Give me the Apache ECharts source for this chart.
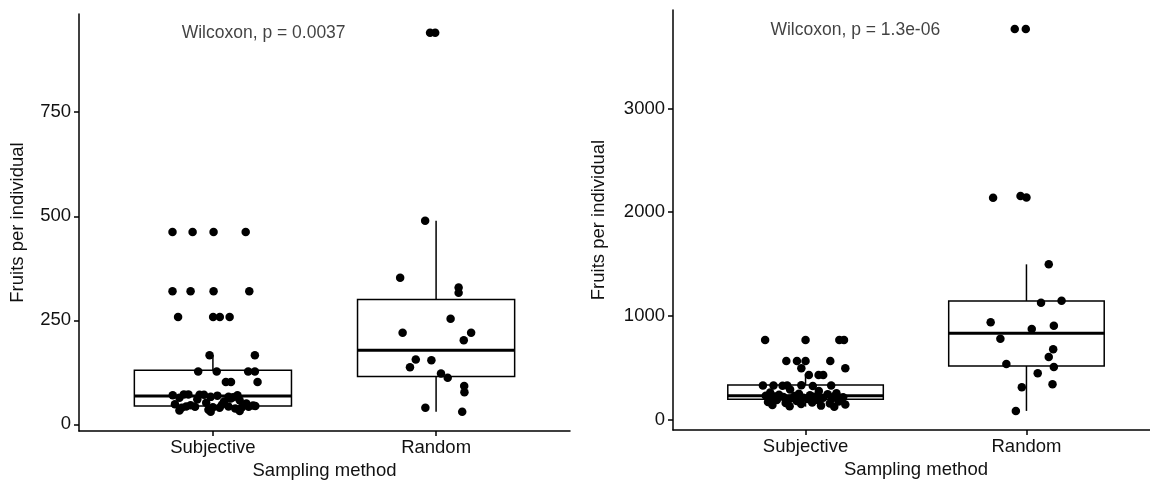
<!DOCTYPE html>
<html>
<head>
<meta charset="utf-8">
<script src="https://cdn.jsdelivr.net/npm/echarts@6/dist/echarts.min.js"></script>
<style>
  html, body { margin: 0; padding: 0; background: #fff; }
  #chart { width: 1150px; height: 481px; }
</style>
</head>
<body>
<div id="chart"></div>
<script>
// Sampling methods on the x axis (positions 1 and 2)
const categories = ['Subjective', 'Random'];

// Tick values of the two y axes
const ticksA = [0, 250, 500, 750];
const ticksB = [0, 1000, 2000, 3000];

// Panel A: fruits per individual, subjective sample
const subjValuesA = [
  462, 462, 462, 462,
  320, 320, 320, 320,
  258, 258, 258, 258,
  166, 166,
  127, 127, 127, 127,
  102, 102, 102,
  72, 72, 71, 71, 70, 70, 69,
  66, 66, 65, 64, 62, 60, 58, 55, 52, 50, 48, 47, 46, 45,
  44, 43, 43, 42, 42, 41, 41, 40, 40, 38, 35, 33, 32, 30
];
// horizontal jitter of each point around its category
const subjJitterA = [
  -0.181, -0.091, 0.003, 0.147,
  -0.181, -0.100, 0.003, 0.163,
  -0.156, 0.001, 0.031, 0.075,
  -0.015, 0.188,
  -0.066, 0.017, 0.158, 0.188,
  0.058, 0.081, 0.200,
  -0.13, -0.11, -0.06, -0.04, 0.11, -0.18, 0.02,
  0.07, -0.01, 0.09, -0.15, 0.08, -0.07, 0.12, 0.05, -0.03, 0.15, -0.17, 0.04, -0.10, 0.18,
  0.19, -0.12, 0.07, 0.16, -0.08, 0.00, 0.13, -0.14, 0.03, 0.10, -0.02, -0.15, 0.12, -0.01
];

// Panel A: random sample
const randValuesA = [941, 941, 489, 352, 329, 316, 254, 220, 220, 202, 156, 154, 137, 122, 112, 92, 77, 40, 30];
const randJitterA = [-0.027, -0.004, -0.049, -0.161, 0.101, 0.101, 0.065, -0.150, 0.157, 0.124, -0.091, -0.021, -0.117, 0.022, 0.052, 0.126, 0.127, -0.048, 0.117];

// Panel A box summaries: [lower whisker, Q1, median, Q3, upper whisker]
const subjBoxA = [30, 44, 68, 130, 166];
const randBoxA = [30, 115, 178, 300, 489];

// Panel B: fruits per individual, subjective sample
const subjValuesB = [
  768, 768, 768, 768,
  565, 565, 565, 565,
  495, 495,
  430, 430, 430,
  328, 330, 326, 328, 332, 325, 330,
  290, 275, 262, 255, 250, 245, 240, 235,
  230, 228, 225, 222, 220, 218, 215, 212, 210, 207, 205, 202, 200, 198,
  190, 185, 180, 175, 170, 165, 160, 155, 150, 145, 140, 135, 130, 125
];
const subjJitterB = [
  -0.183, 0.000, 0.153, 0.174,
  -0.087, -0.039, 0.000, 0.112,
  -0.019, 0.180,
  0.015, 0.059, 0.080,
  -0.193, -0.145, -0.104, -0.083, -0.019, 0.033, 0.116,
  -0.07, 0.06, -0.16, 0.14, -0.03, 0.10, -0.12, 0.02,
  -0.18, -0.05, 0.13, -0.14, 0.04, -0.10, 0.17, -0.01, 0.08, -0.16, 0.12, -0.07, 0.01, 0.16,
  -0.13, 0.06, -0.04, 0.15, -0.17, 0.03, -0.09, 0.11, -0.02, 0.18, -0.15, 0.07, -0.072, 0.13
];

// Panel B: random sample
const randValuesB = [3765, 3765, 2139, 2155, 2142, 1497, 1127, 1146, 938, 874, 906, 780, 678, 604, 537, 508, 447, 341, 312, 84];
const randJitterB = [-0.053, -0.003, -0.151, -0.027, 0.000, 0.101, 0.066, 0.159, -0.162, 0.024, 0.124, -0.118, 0.121, 0.101, -0.091, 0.124, 0.051, 0.118, -0.021, -0.048];

// Panel B box summaries: [lower whisker, Q1, median, Q3, upper whisker]
const subjBoxB = [125, 196, 231, 334, 440];
const randBoxB = [84, 517, 832, 1143, 1497];

// Test results printed in each panel
const testLabels = ['Wilcoxon, p = 0.0037', 'Wilcoxon, p = 1.3e-06'];

const FONT = '"Liberation Sans", Arial, Helvetica, sans-serif';
const TEXT = '#111';
const BOX_HALF = 0.352;

function points(values, jitter, pos) {
  return values.map((v, i) => [pos + jitter[i], v]);
}

function renderBox(params, api) {
  const x = api.value(0);
  const lo = api.value(1), q1 = api.value(2), med = api.value(3), q3 = api.value(4), hi = api.value(5);
  const tl = api.coord([x - BOX_HALF, q3]);
  const br = api.coord([x + BOX_HALF, q1]);
  const mL = api.coord([x - BOX_HALF, med]);
  const mR = api.coord([x + BOX_HALF, med]);
  const top = api.coord([x, hi]);
  const bot = api.coord([x, lo]);
  const c3 = api.coord([x, q3]);
  const c1 = api.coord([x, q1]);
  const thin = { stroke: '#000', lineWidth: 1.5, fill: null };
  return {
    type: 'group',
    children: [
      { type: 'line', shape: { x1: top[0], y1: top[1], x2: c3[0], y2: c3[1] }, style: thin },
      { type: 'line', shape: { x1: c1[0], y1: c1[1], x2: bot[0], y2: bot[1] }, style: thin },
      { type: 'rect', shape: { x: tl[0], y: tl[1], width: br[0] - tl[0], height: br[1] - tl[1] },
        style: { stroke: '#000', lineWidth: 1.5, fill: '#fff' } },
      { type: 'line', shape: { x1: mL[0], y1: mL[1], x2: mR[0], y2: mR[1] },
        style: { stroke: '#000', lineWidth: 3 } }
    ]
  };
}

function xAxisFor(gridIndex) {
  return {
    type: 'value', gridIndex, min: 0.4, max: 2.6,
    name: 'Sampling method', nameLocation: 'middle', nameGap: 27,
    nameTextStyle: { fontSize: 18.5, color: TEXT, fontFamily: FONT },
    axisLine: { show: true, onZero: false, lineStyle: { color: '#000', width: 1.5 } },
    axisTick: { show: true, customValues: [1, 2], length: 5, lineStyle: { color: '#000', width: 1.5 } },
    axisLabel: { customValues: [1, 2], formatter: v => categories[Math.round(v) - 1],
      fontSize: 18.5, color: TEXT, fontFamily: FONT, margin: 7 },
    splitLine: { show: false }
  };
}

function yAxisFor(gridIndex, min, max, ticks, gap) {
  return {
    type: 'value', gridIndex, min, max,
    name: 'Fruits per individual', nameLocation: 'middle', nameGap: gap, nameRotate: 90,
    nameTextStyle: { fontSize: 18.5, color: TEXT, fontFamily: FONT },
    axisLine: { show: true, onZero: false, lineStyle: { color: '#000', width: 1.5 } },
    axisTick: { show: true, customValues: ticks, length: 5, lineStyle: { color: '#000', width: 1.5 } },
    axisLabel: { customValues: ticks, formatter: v => String(v),
      fontSize: 18.5, color: TEXT, fontFamily: FONT, margin: 8 },
    splitLine: { show: false }
  };
}

function boxSeries(idx, boxes) {
  return {
    type: 'custom', xAxisIndex: idx, yAxisIndex: idx, z: 2,
    renderItem: renderBox,
    encode: { x: 0, y: [1, 2, 3, 4, 5] },
    data: boxes.map((b, i) => [i + 1].concat(b)),
    silent: true
  };
}

function pointSeries(idx, data) {
  return {
    type: 'scatter', xAxisIndex: idx, yAxisIndex: idx, z: 3,
    symbol: 'circle', symbolSize: 8.5,
    itemStyle: { color: '#000', opacity: 1 },
    data, silent: true
  };
}

function labelSeries(idx, at, text) {
  return {
    type: 'scatter', xAxisIndex: idx, yAxisIndex: idx, z: 4,
    symbolSize: 0, data: [at], silent: true,
    label: { show: true, position: 'right', distance: 0, formatter: text,
      fontSize: 17.5, color: TEXT, fontFamily: FONT }
  };
}

const chart = echarts.init(document.getElementById('chart'), null, { renderer: 'canvas' });
chart.setOption({
  animation: false,
  backgroundColor: '#fff',
  grid: [
    { left: 79, top: 14, width: 491, height: 417, outerBoundsMode: 'none', containLabel: false },
    { left: 673, top: 10, width: 486, height: 420, outerBoundsMode: 'none', containLabel: false }
  ],
  xAxis: [xAxisFor(0), xAxisFor(1)],
  yAxis: [
    yAxisFor(0, -16, 986, ticksA, 52),
    yAxisFor(1, -100, 3949, ticksB, 65)
  ],
  series: [
    boxSeries(0, [subjBoxA, randBoxA]),
    pointSeries(0, points(subjValuesA, subjJitterA, 1).concat(points(randValuesA, randJitterA, 2))),
    labelSeries(0, [0.86, 940], testLabels[0]),
    boxSeries(1, [subjBoxB, randBoxB]),
    pointSeries(1, points(subjValuesB, subjJitterB, 1).concat(points(randValuesB, randJitterB, 2))),
    labelSeries(1, [0.841, 3754], testLabels[1])
  ]
});
</script>
</body>
</html>
